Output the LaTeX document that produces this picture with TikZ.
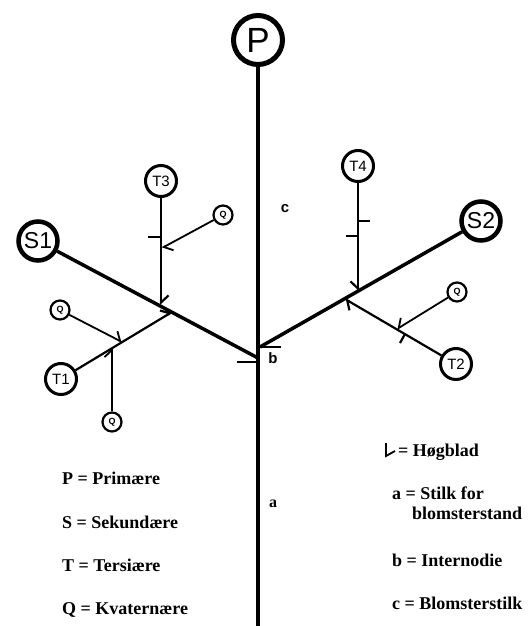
\documentclass[tikz,border=0pt]{standalone}
\usepackage{fontspec}
\setmainfont{Liberation Serif}
\newfontfamily\lsans{Liberation Sans}
\usetikzlibrary{arrows.meta}
\begin{document}
\begin{tikzpicture}[x=1pt,y=-1pt,
  pnode/.style={circle,draw,line width=5pt,minimum size=49pt,inner sep=0pt,font=\lsans\fontsize{35}{35}\selectfont},
  snode/.style={circle,draw,line width=4.5pt,minimum size=39pt,inner sep=0pt,font=\lsans\fontsize{23}{23}\selectfont},
  tnode/.style={circle,draw,line width=3pt,minimum size=31pt,inner sep=0pt,font=\lsans\fontsize{15}{15}\selectfont},
  qnode/.style={circle,draw,line width=2.2pt,minimum size=19pt,inner sep=0pt,font=\lsans\bfseries\fontsize{9}{9}\selectfont},
  mainline/.style={line width=4pt},
  sline/.style={line width=3.5pt},
  tline/.style={line width=2.2pt},
  qline/.style={line width=1.8pt},
  bract/.style={line width=2.2pt},
  hL/.style={-{Straight Barb[harpoon,length=7pt,width=15pt]}},
  hR/.style={-{Straight Barb[harpoon,swap,length=7pt,width=15pt]}},
  legend/.style={anchor=base west,inner sep=0pt,font=\bfseries\fontsize{18}{18}\selectfont},
  lab/.style={inner sep=0pt,font=\lsans\bfseries\fontsize{15}{15}\selectfont}
]
\useasboundingbox (0,0) rectangle (531,626);

% nodes
\node[pnode] (P) at (258,40) {P};
\node[snode] (S1) at (38,241) {S1};
\node[snode] (S2) at (481,221) {S2};
\node[tnode] (T1) at (61,379) {T1};
\node[tnode] (T2) at (456,364) {T2};
\node[tnode] (T3) at (161,181) {T3};
\node[tnode] (T4) at (358,166) {T4};
\node[qnode] (Q1a) at (60,310) {Q};
\node[qnode] (Q1b) at (112,422) {Q};
\node[qnode] (Q2) at (457,292) {Q};
\node[qnode] (Q3) at (223,215) {Q};

% junction coordinates
\coordinate (bot) at (258,626);
\coordinate (jS1) at (258,358);
\coordinate (jS2) at (260,347);
\coordinate (jT3) at (161,305);
\coordinate (jQ3) at (162,248);
\coordinate (jT1) at (172,312);
\coordinate (jQ1a) at (122,342);
\coordinate (jQ1b) at (112,348);
\coordinate (jT4) at (358,291);
\coordinate (jT2) at (345,299);
\coordinate (jQ2) at (397,329);

% main stem
\draw[mainline] (P) -- (bot);
% secondary
\draw[sline] (S1) -- (jS1);
\draw[sline] (S2) -- (jS2);
% tertiary
\draw[tline,hL] (T3) -- (jT3);
\draw[tline,hL] (T1) -- (jT1);
\draw[tline,hR] (T4) -- (jT4);
\draw[tline,hL] (T2) -- (jT2);
% quaternary
\draw[qline,hL] (Q3) -- (jQ3);
\draw[qline,hL] (Q1a) -- (jQ1a);
\draw[qline,hL] (Q1b) -- (jQ1b);
\draw[qline,hR] (Q2) -- (jQ2);

% bracts
\coordinate (bS1) at (258,362); \coordinate (bS1e) at (237,362);
\coordinate (bS2) at (260,347); \coordinate (bS2e) at (281,347);
\draw[bract,line width=2.8pt] (bS1) -- (bS1e);
\draw[bract,line width=2.8pt] (bS2) -- (bS2e);
\coordinate (bT3) at (161,237); \coordinate (bT3e) at (148,237);
\draw[bract] (bT3) -- (bT3e);
\coordinate (bT4a) at (358,221); \coordinate (bT4ae) at (370,221);
\coordinate (bT4b) at (358,236); \coordinate (bT4be) at (346,236);
\draw[bract] (bT4a) -- (bT4ae);
\draw[bract] (bT4b) -- (bT4be);
\coordinate (bT2) at (405,334); \coordinate (bT2e) at (400,343);
\draw[bract] (bT2) -- (bT2e);

% stem labels
\node[lab] (lc) at (285,209) {c};
\node[lab] (lb) at (273,358) {b};
\node[inner sep=0pt,font=\bfseries\fontsize{16}{16}\selectfont] (la) at (273,504) {a};

% legend
\node[legend] (L1) at (62,484) {P = Primære};
\node[legend] (L2) at (62,528) {S = Sekundære};
\node[legend] (L3) at (62,571) {T = Tersiære};
\node[legend] (L4) at (62,614) {Q = Kvaternære};
\coordinate (sy1) at (386,443); \coordinate (sy2) at (386,456); \coordinate (sy3) at (395,451);
\draw[line width=1.8pt] (sy1) -- (sy2) -- (sy3);
\node[legend] (R1) at (398,456) {= Høgblad};
\node[legend] (R2) at (392,499) {a = Stilk for};
\node[legend] (R3) at (412,519) {blomsterstand};
\node[legend] (R4) at (392,566) {b = Internodie};
\node[legend] (R5) at (392,609) {c = Blomsterstilk};
\end{tikzpicture}
\end{document}
